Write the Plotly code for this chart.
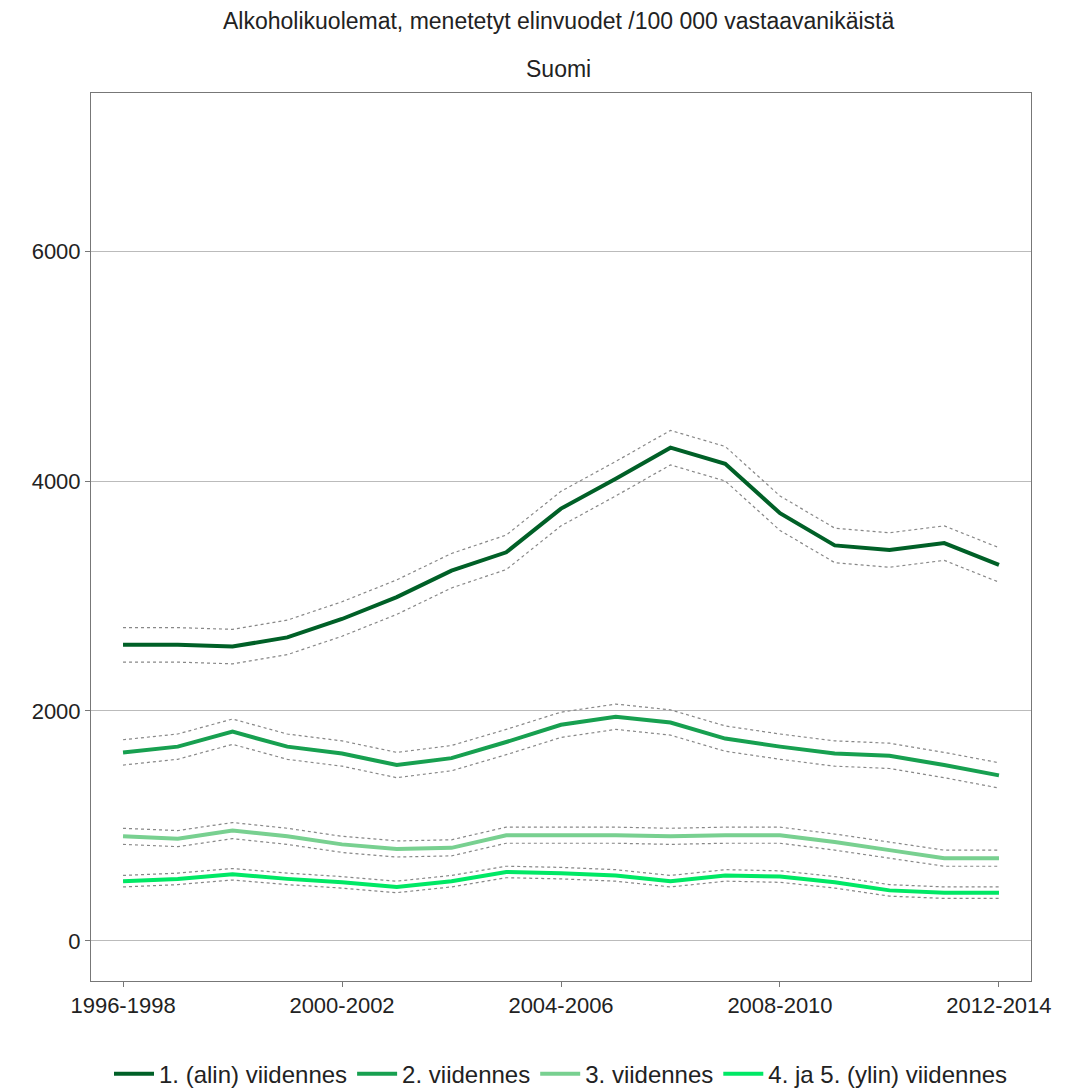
import plotly.graph_objects as go

periods = [f"{y}-{y+2}" for y in range(1996, 2013)]
names = ["1. (alin) viidennes", "2. viidennes", "3. viidennes", "4. ja 5. (ylin) viidennes"]
s1 = [2575, 2575, 2560, 2640, 2800, 2990, 3220, 3380, 3760, 4020, 4290, 4150, 3720, 3440, 3400, 3460, 3270]
s2 = [1640, 1690, 1820, 1690, 1630, 1530, 1590, 1730, 1880, 1950, 1900, 1760, 1690, 1630, 1610, 1530, 1440]
s3 = [910, 890, 960, 910, 840, 800, 810, 920, 920, 920, 910, 920, 920, 860, 790, 720, 720]
s4 = [520, 540, 580, 540, 510, 470, 520, 600, 590, 570, 520, 570, 560, 510, 440, 420, 420]
ci = [150, 110, 70, 50]
colors = ["#006027", "#17a050", "#78d090", "#00e865"]
title1 = "Alkoholikuolemat, menetetyt elinvuodet /100 000 vastaavanikäistä"
title2 = "Suomi"

fig = go.Figure()
for name, s, c, col in zip(names, [s1, s2, s3, s4], ci, colors):
    for sign in (1, -1):
        fig.add_trace(go.Scatter(x=periods, y=[v + sign * c for v in s], mode="lines",
                                 line=dict(color="#888", width=1.2, dash="dot"),
                                 showlegend=False, hoverinfo="skip"))
    fig.add_trace(go.Scatter(x=periods, y=s, mode="lines", name=name,
                             line=dict(color=col, width=4)))

fig.add_annotation(text=title1, xref="paper", yref="paper", x=0.497, y=1.081,
                   showarrow=False, font=dict(size=23), xanchor="center", yanchor="middle")
fig.add_annotation(text=title2, xref="paper", yref="paper", x=0.497, y=1.027,
                   showarrow=False, font=dict(size=23), xanchor="center", yanchor="middle")

fig.update_layout(
    width=1081, height=1089, plot_bgcolor="white", paper_bgcolor="white",
    font=dict(family="Liberation Sans, Arial", size=22, color="#222"),
    margin=dict(l=83, r=58, t=85, b=116, autoexpand=False),
    legend=dict(orientation="h", x=0.5, xanchor="center", y=-0.105, yanchor="middle",
                font=dict(size=24), itemwidth=40, tracegroupgap=0),
    xaxis=dict(range=[-0.585, 16.585], tickvals=periods[::4], showgrid=False,
               showline=True, mirror=True, linecolor="#777", ticks="outside",
               ticklen=5, tickcolor="#777"),
    yaxis=dict(range=[-348, 7374], tickvals=[0, 2000, 4000, 6000], showgrid=True,
               gridcolor="#bbb", zeroline=False, showline=True, mirror=True,
               linecolor="#777", ticks="outside", ticklen=5, tickcolor="#777"),
)
fig.write_html("out.html")
